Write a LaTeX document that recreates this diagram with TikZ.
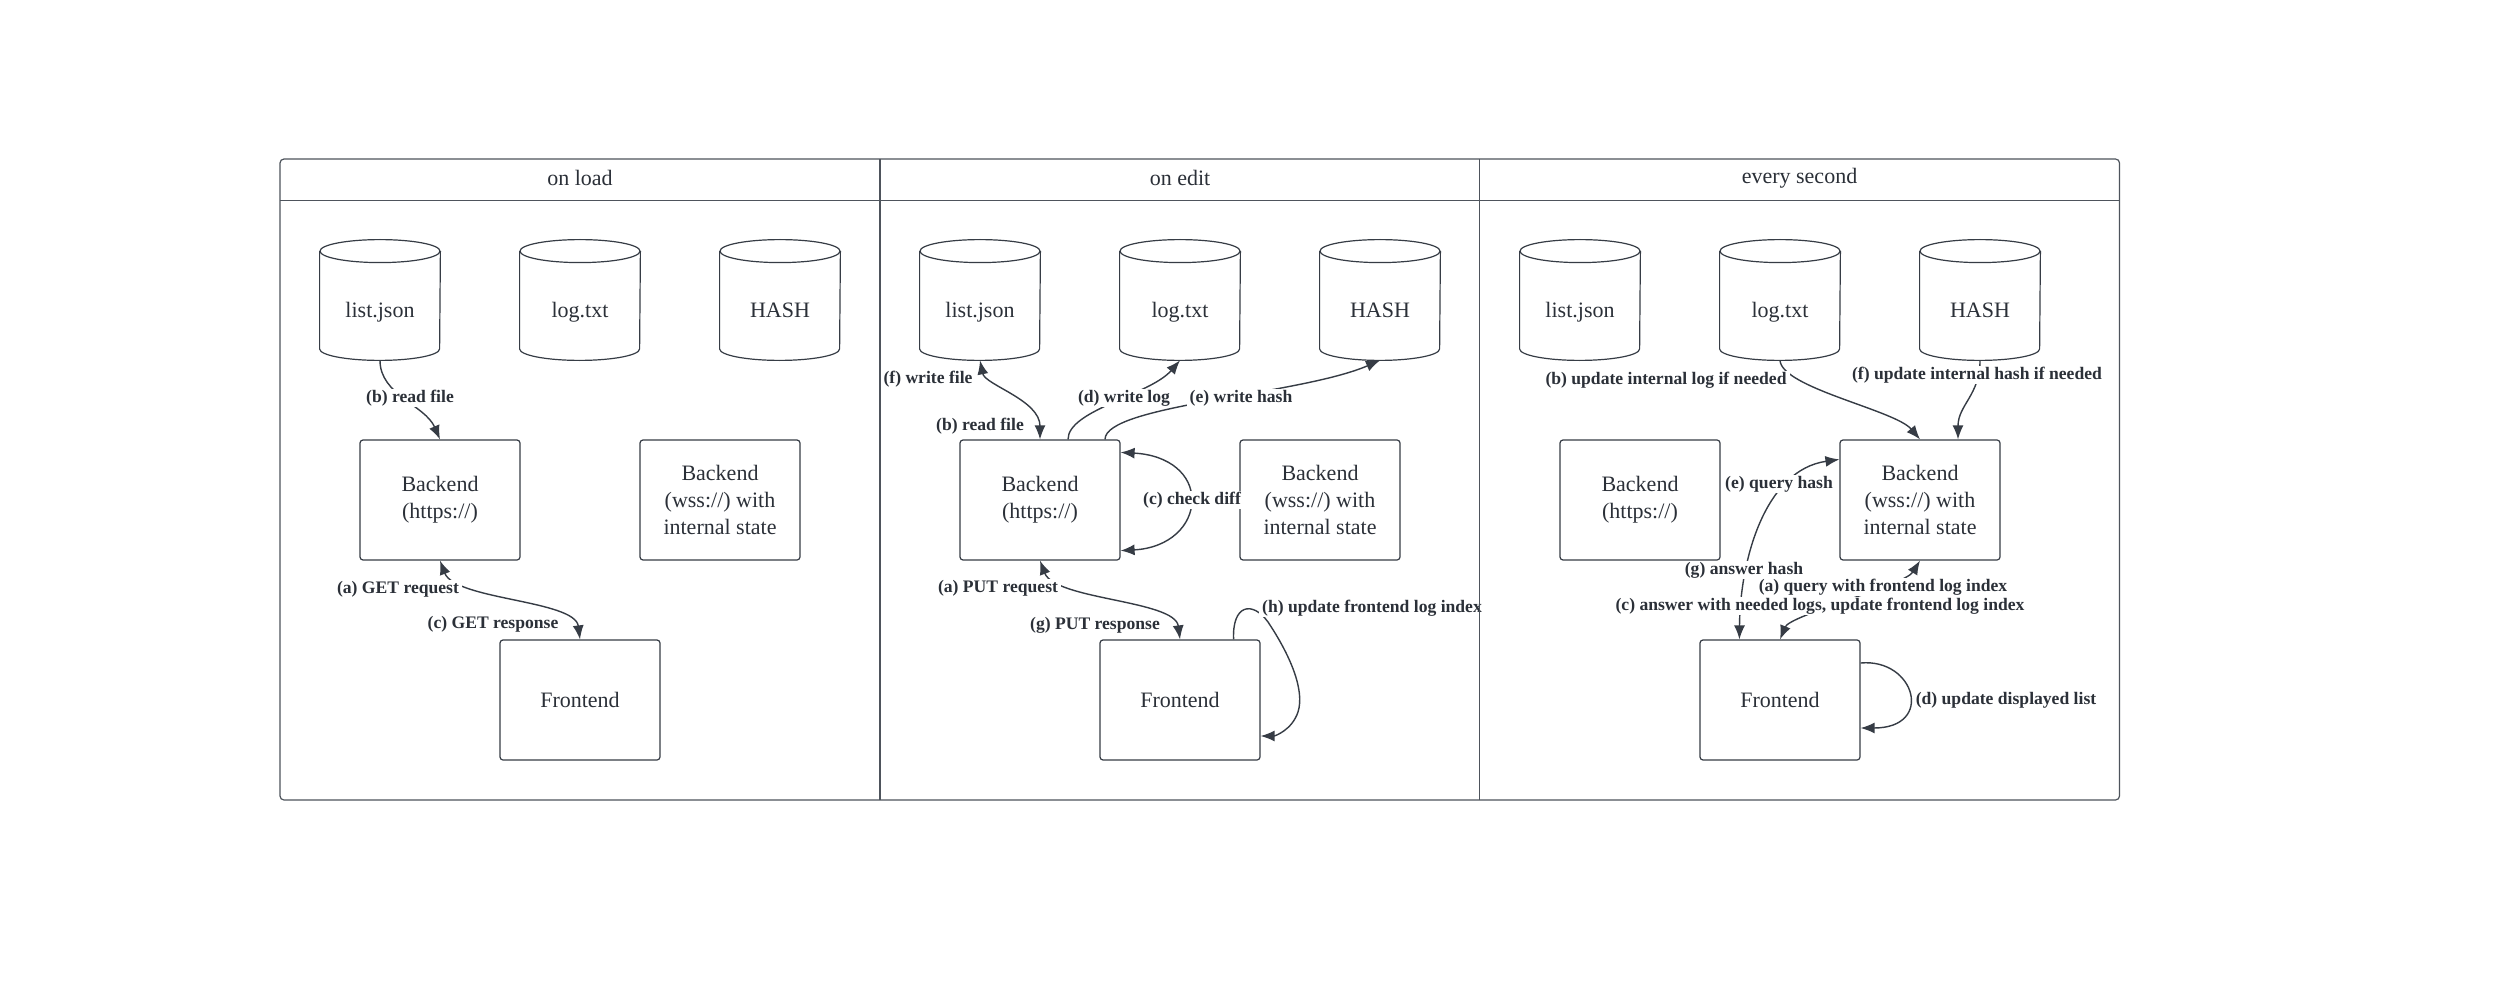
\documentclass[tikz,border=0pt]{standalone}
\usepackage{fontspec}
\setmainfont{Liberation Serif}
\usetikzlibrary{arrows.meta,calc}
\definecolor{ln}{HTML}{363C45}
\definecolor{tx}{HTML}{2B3038}
\definecolor{fr}{HTML}{4E545C}
\newcommand\mycyl[1]{%
  \draw[draw=ln,line width=0.6pt] ([yshift=-5.75pt]#1.north west) -- ([yshift=5.75pt]#1.south west)
    arc[start angle=180,end angle=360,x radius=30pt,y radius=5.75pt] -- ([yshift=-5.75pt]#1.north east);
  \draw[draw=ln,line width=0.6pt] ([yshift=-5.75pt]#1.north) ellipse[x radius=30pt,y radius=5.75pt];}
\begin{document}
\begin{tikzpicture}[x=0.5pt,y=-0.5pt,
  box/.style={draw=ln,line width=0.6pt,rounded corners=1.5pt,minimum width=80pt,minimum height=60pt,inner sep=0pt,align=center,text=tx,font=\fontsize{11}{13.5}\selectfont},
  db/.style={minimum width=60pt,minimum height=60pt,inner sep=0pt,text=tx,font=\fontsize{11}{13.5}\selectfont,text height=17.4pt,text depth=0pt},
  hd/.style={text=tx,font=\fontsize{11}{13.5}\selectfont},
  conn/.style={draw=ln,line width=0.7pt,-{Latex[length=7pt,width=5.5pt]}},
  both/.style={draw=ln,line width=0.7pt,{Latex[length=7pt,width=5.5pt]}-{Latex[length=7pt,width=5.5pt]}},
  lbl/.style={fill=white,text=tx,inner xsep=1.5pt,inner ysep=0.5pt,font=\bfseries\fontsize{8.8}{10}\selectfont},
]
\fill[white] (0,0) rectangle (2500,1000);
\useasboundingbox (0,0) rectangle (2500,1000);

% headers
\node[hd] (t1) at (580,177.5) {on load};
\node[hd] (t2) at (1180,177.5) {on edit};
\node[hd] (t3) at (1799.5,178) {every second};

% lane 1
\node[db] (l1) at (380,300) {list.json};
\node[db] (g1) at (580,300) {log.txt};
\node[db] (h1) at (780,300) {HASH};
\node[box] (b1) at (440,500) {Backend\\(https://)};
\node[box] (w1) at (720,500) {Backend\\(wss://) with\\internal state};
\node[box] (f1) at (580,700) {Frontend};
% lane 2
\node[db] (l2) at (980,300) {list.json};
\node[db] (g2) at (1180,300) {log.txt};
\node[db] (h2) at (1380,300) {HASH};
\node[box] (b2) at (1040,500) {Backend\\(https://)};
\node[box] (w2) at (1320,500) {Backend\\(wss://) with\\internal state};
\node[box] (f2) at (1180,700) {Frontend};
% lane 3
\node[db] (l3) at (1580,300) {list.json};
\node[db] (g3) at (1780,300) {log.txt};
\node[db] (h3) at (1980,300) {HASH};
\node[box] (b3) at (1640,500) {Backend\\(https://)};
\node[box] (w3) at (1920,500) {Backend\\(wss://) with\\internal state};
\node[box] (f3) at (1780,700) {Frontend};

\foreach \c in {l1,g1,h1,l2,g2,h2,l3,g3,h3} {\mycyl{\c}}

% lane 1 connectors
\draw[conn] (l1.south) .. controls (380,395) and (425,405) .. (b1.north);
\draw[both] (b1.south) .. controls (455,600) and (575,600) .. (f1.north);
% lane 2 connectors
\draw[both] (l2.south) .. controls (985,385) and (1040,400) .. (b2.north);
\draw[conn] ([xshift=14pt]b2.north) .. controls (1068,410) and (1150,395) .. (g2.south);
\draw[conn] ([xshift=32.5pt]b2.north) .. controls (1105,405) and (1300,395) .. (h2.south);
\draw[both] ([yshift=-6.5pt]b2.north east) .. controls (1170,455) and (1192,475) .. (1192,500)
  .. controls (1192,525) and (1170,548) .. ([yshift=5pt]b2.south east);
\draw[both] (b2.south) .. controls (1055,600) and (1175,600) .. (f2.north);
\draw[conn] ([xshift=-13.5pt]f2.north east) .. controls (1232,605) and (1252,600) .. (1268,622)
  .. controls (1290,655) and (1305,690) .. (1298,712) .. controls (1292,730) and (1275,736) .. ([yshift=-18pt]f2.east);
% lane 3 connectors
\draw[conn] (g3.south) .. controls (1782,388) and (1895,410) .. (w3.north);
\draw[conn] (h3.south) .. controls (1980,395) and (1958,405) .. ([xshift=19pt]w3.north);
\draw[both] ([xshift=20pt]f3.north west) .. controls (1740,560) and (1765,470) .. ([yshift=-10pt]w3.north west);
\draw[both] (f3.north) .. controls (1790,615) and (1905,585) .. (w3.south);
\draw[conn] ([yshift=18.5pt]f3.east) .. controls (1915,658) and (1935,728) .. ([yshift=-14pt]f3.east);

% labels
\node[lbl] (x1) at (410,398) {(b) read file};
\node[lbl] (x2) at (398,589) {(a) GET request};
\node[lbl] (x3) at (493,624) {(c) GET response};
\node[lbl] (x4) at (928,379) {(f) write file};
\node[lbl] (x5) at (980,426) {(b) read file};
\node[lbl] (x6) at (1124,398) {(d) write log};
\node[lbl] (x7) at (1241,398) {(e) write hash};
\node[lbl] (x8) at (1192,500) {(c) check diff};
\node[lbl] (x9) at (998,588) {(a) PUT request};
\node[lbl] (x10) at (1095,625) {(g) PUT response};
\node[lbl] (x11) at (1372,608) {(h) update frontend log index};
\node[lbl] (x12) at (1666,380) {(b) update internal log if needed};
\node[lbl] (x13) at (1977,375) {(f) update internal hash if needed};
\node[lbl] (x14) at (1779,484) {(e) query hash};
\node[lbl] (x15) at (1744,570) {(g) answer hash};
\node[lbl] (x16) at (1820,606) {(c) answer with needed logs, update frontend log index};
\node[lbl] (x17) at (1883,587) {(a) query with frontend log index};
\node[lbl] (x18) at (2006,700) {(d) update displayed list};

% frame
\draw[draw=fr,line width=0.6pt,rounded corners=2pt] (280,159) rectangle (2119.5,800);
\draw[draw=fr,line width=0.6pt] (280,200.5) -- (2119.5,200.5);
\draw[draw=fr,line width=0.6pt] (880,159) -- (880,800);
\draw[draw=fr,line width=0.6pt] (1479.5,159) -- (1479.5,800);
\end{tikzpicture}
\end{document}
